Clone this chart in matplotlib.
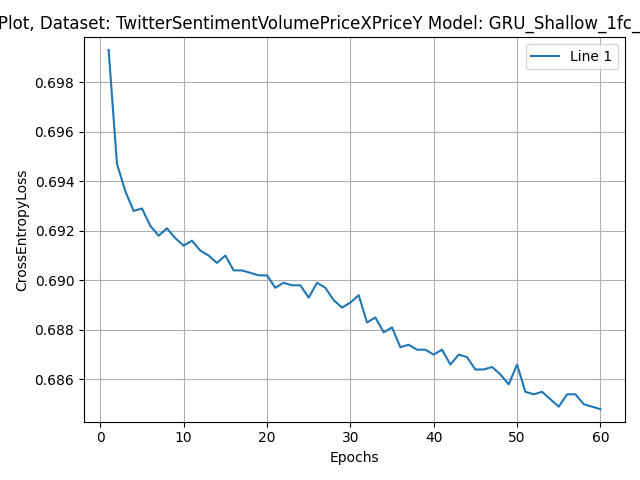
import matplotlib
matplotlib.use("Agg")
import matplotlib.pyplot as plt

epochs = list(range(1, 61))
loss = [0.6993, 0.6947, 0.6936, 0.6928, 0.6929, 0.6922, 0.6918, 0.6921, 0.6917, 0.6914,
        0.6916, 0.6912, 0.6910, 0.6907, 0.6910, 0.6904, 0.6904, 0.6903, 0.6902, 0.6902,
        0.6897, 0.6899, 0.6898, 0.6898, 0.6893, 0.6899, 0.6897, 0.6892, 0.6889, 0.6891,
        0.6894, 0.6883, 0.6885, 0.6879, 0.6881, 0.6873, 0.6874, 0.6872, 0.6872, 0.6870,
        0.6872, 0.6866, 0.6870, 0.6869, 0.6864, 0.6864, 0.6865, 0.6862, 0.6858, 0.6866,
        0.6855, 0.6854, 0.6855, 0.6852, 0.6849, 0.6854, 0.6854, 0.6850, 0.6849, 0.6848]

fig, ax = plt.subplots(figsize=(6.4, 4.8), dpi=100)
ax.plot(epochs, loss, label="Line 1")
ax.set_xlabel("Epochs")
ax.set_ylabel("CrossEntropyLoss")
ax.set_title("Loss Plot, Dataset: TwitterSentimentVolumePriceXPriceY Model: GRU_Shallow_1fc_Dropout_SGD")
ax.grid(True)
ax.legend(loc="upper right")
ax.margins(y=0.035)
fig.tight_layout()
fig.savefig("out.png")
